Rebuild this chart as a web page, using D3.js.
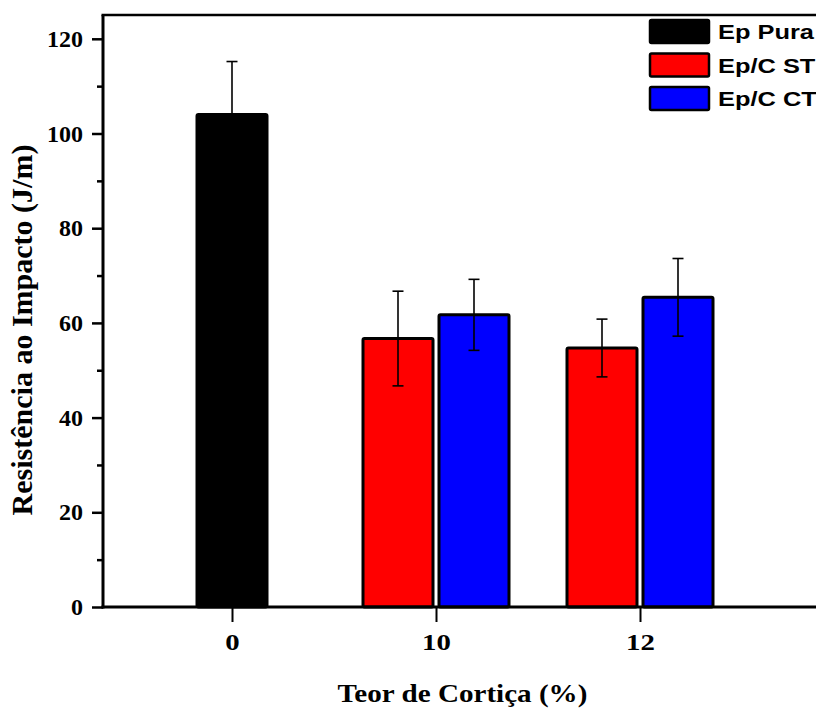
<!DOCTYPE html>
<html>
<head>
<meta charset="utf-8">
<script src="https://cdn.jsdelivr.net/npm/d3@7"></script>
<style>
  body { margin: 0; background: #fff; }
  svg { display: block; }
</style>
</head>
<body>
<div id="chart"></div>
<script>
const groups = ["0", "10", "12"];
const seriesNames = ["Ep Pura", "Ep/C ST", "Ep/C CT"];
const seriesColors = ["#000000", "#ff0000", "#0000ff"];
// mean values per group (null = no bar)
const epPura = [104, null, null];
const epCST = [null, 56.7, 54.7];
const epCCT = [null, 61.7, 65.4];
// error (standard deviation)
const errPura = [11.2, null, null];
const errCST = [null, 10.0, 6.1];
const errCCT = [null, 7.5, 8.2];
const yMajor = [0, 20, 40, 60, 80, 100, 120];
const yMinor = [10, 30, 50, 70, 90, 110];

const W = 816, H = 708;
const plotLeft = 103, plotTop = 15, plotRight = 822, plotBottom = 607;
const barW = 70, barGap = 6;
const serif = "'Liberation Serif', 'Times New Roman', serif";

const svg = d3.select("#chart").append("svg")
    .attr("width", W)
    .attr("height", H);

const x = d3.scalePoint().domain(groups).range([232, 640]);
const y = d3.scaleLinear().domain([0, 120]).range([plotBottom, plotBottom - 120 * 4.735]);

// build bar records
const values = [epPura, epCST, epCCT];
const errors = [errPura, errCST, errCCT];
let bars = [];
groups.forEach(function (g, gi) {
    let inGroup = [];
    seriesNames.forEach(function (s, si) {
        if (values[si][gi] !== null) {
            inGroup.push({group: g, si: si, v: values[si][gi], e: errors[si][gi]});
        }
    });
    const n = inGroup.length;
    inGroup.forEach(function (d, i) {
        d.cx = x(g) + (i - (n - 1) / 2) * (barW + barGap);
        bars.push(d);
    });
});

svg.append("g").selectAll("rect")
    .data(bars)
    .enter()
    .append("rect")
    .attr("x", d => d.cx - barW / 2)
    .attr("y", d => y(d.v))
    .attr("width", barW)
    .attr("height", d => y(0) - y(d.v))
    .attr("rx", 1.5)
    .attr("fill", d => seriesColors[d.si])
    .attr("stroke", "#000")
    .attr("stroke-width", 3);

// error bars
const eb = svg.append("g").selectAll("g")
    .data(bars)
    .enter()
    .append("g")
    .attr("stroke", "#000")
    .attr("stroke-width", 1.6);
eb.append("line")
    .attr("x1", d => d.cx).attr("x2", d => d.cx)
    .attr("y1", d => y(d.v + d.e)).attr("y2", d => y(d.v - d.e));
eb.append("line")
    .attr("x1", d => d.cx - 5.5).attr("x2", d => d.cx + 5.5)
    .attr("y1", d => y(d.v + d.e)).attr("y2", d => y(d.v + d.e));
eb.append("line")
    .attr("x1", d => d.cx - 5.5).attr("x2", d => d.cx + 5.5)
    .attr("y1", d => y(d.v - d.e)).attr("y2", d => y(d.v - d.e));

// y axis
const yAxis = svg.append("g")
    .attr("transform", "translate(" + plotLeft + ",0)")
    .call(d3.axisLeft(y).tickValues(yMajor).tickSize(11).tickPadding(9));
yAxis.select(".domain").remove();
yAxis.selectAll(".tick line").attr("stroke-width", 2.5);
yAxis.selectAll("text")
    .style("font-family", serif)
    .style("font-weight", "bold")
    .style("font-size", "24px")
    .attr("fill", "#000");

const yMinorAxis = svg.append("g")
    .attr("transform", "translate(" + plotLeft + ",0)")
    .call(d3.axisLeft(y).tickValues(yMinor).tickSize(6).tickFormat(""));
yMinorAxis.select(".domain").remove();
yMinorAxis.selectAll(".tick line").attr("stroke-width", 2.5);

// x axis
const xAxis = svg.append("g")
    .attr("transform", "translate(0," + plotBottom + ")")
    .call(d3.axisBottom(x).tickSize(15).tickPadding(11));
xAxis.select(".domain").remove();
xAxis.selectAll(".tick line").attr("stroke-width", 2);
xAxis.selectAll("text")
    .style("font-family", serif)
    .style("font-weight", "bold")
    .style("font-size", "24px")
    .attr("transform", "scale(1.2,1)")
    .attr("fill", "#000");

// frame lines
svg.append("line")
    .attr("x1", plotLeft).attr("x2", plotLeft)
    .attr("y1", plotTop).attr("y2", plotBottom + 1.5)
    .attr("stroke", "#000").attr("stroke-width", 3);
svg.append("line")
    .attr("x1", plotLeft - 1.5).attr("x2", plotRight)
    .attr("y1", plotBottom).attr("y2", plotBottom)
    .attr("stroke", "#000").attr("stroke-width", 3);
svg.append("line")
    .attr("x1", plotLeft - 1.5).attr("x2", plotRight)
    .attr("y1", plotTop).attr("y2", plotTop)
    .attr("stroke", "#000").attr("stroke-width", 2.5);

// axis titles
svg.append("text")
    .attr("transform", "translate(32,330) rotate(-90)")
    .attr("text-anchor", "middle")
    .style("font-family", serif)
    .style("font-weight", "bold")
    .style("font-size", "30px")
    .text("Resistência ao Impacto (J/m)");

svg.append("text")
    .attr("transform", "translate(" + (plotLeft + plotRight) / 2 + ",702) scale(1.12,1)")
    .attr("text-anchor", "middle")
    .style("font-family", serif)
    .style("font-weight", "bold")
    .style("font-size", "26px")
    .text("Teor de Cortiça (%)");

// legend
const legend = svg.append("g").attr("transform", "translate(650,20)");
const items = legend.selectAll("g")
    .data(seriesNames)
    .enter()
    .append("g")
    .attr("transform", (d, i) => "translate(0," + i * 33.5 + ")");
items.append("rect")
    .attr("width", 59)
    .attr("height", 23)
    .attr("rx", 1.5)
    .attr("fill", (d, i) => seriesColors[i])
    .attr("stroke", "#000")
    .attr("stroke-width", 2.5);
items.append("text")
    .attr("transform", "translate(68,19) scale(1.27,1)")
    .style("font-family", "'Liberation Sans', Arial, sans-serif")
    .style("font-weight", "bold")
    .style("font-size", "20px")
    .text(d => d);
</script>
</body>
</html>
